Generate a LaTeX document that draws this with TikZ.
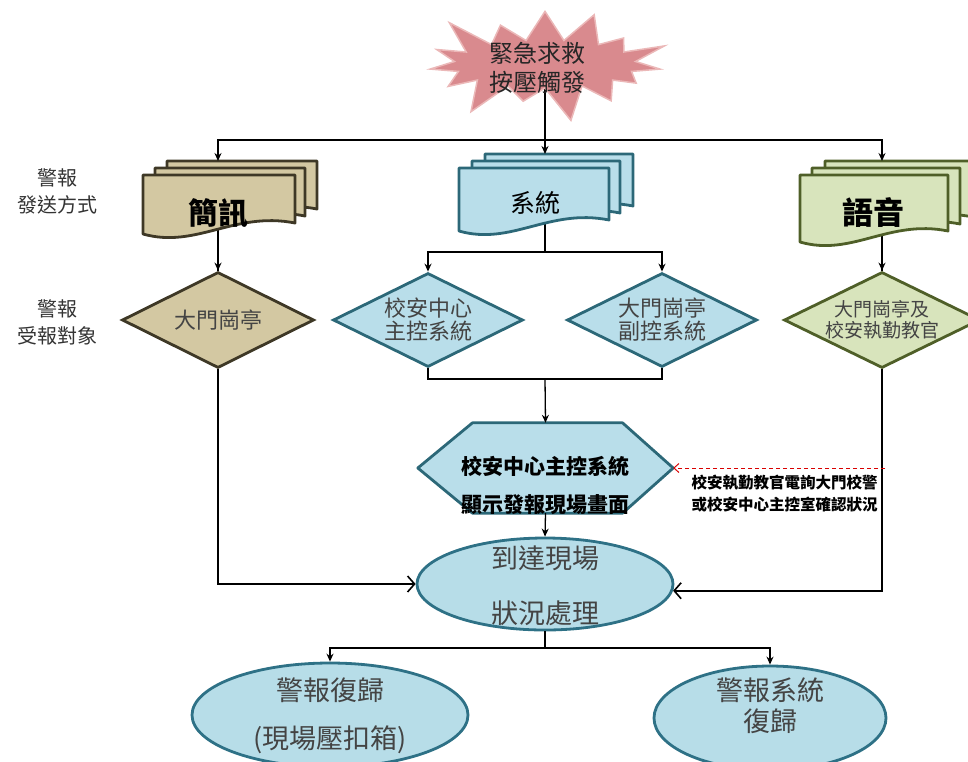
\documentclass[tikz,border=0pt]{standalone}
\usepackage{fontspec}
\setmainfont{Noto Sans CJK TC}
\usetikzlibrary{shapes.geometric,shapes.symbols,arrows.meta,backgrounds}
\definecolor{tanF}{HTML}{D3C8A2}
\definecolor{tanD}{HTML}{3E3826}
\definecolor{bluF}{HTML}{B9DEEA}
\definecolor{bluD}{HTML}{2C6878}
\definecolor{grnF}{HTML}{D8E4BC}
\definecolor{grnD}{HTML}{4F5F28}
\definecolor{burF}{HTML}{D98A8E}
\definecolor{burD}{HTML}{EBB8B8}
\definecolor{ellF}{HTML}{B7DDE8}
\definecolor{ellD}{HTML}{2E7186}
\definecolor{txtG}{HTML}{444444}
\newcommand\mdoc[6]{%
  \filldraw[fill=#5,draw=#6,line width=2.8pt,line join=round]
    (#1,#2) -- ({#1+#3},#2) -- ({#1+#3},{#2+#4-14})
    .. controls ({#1+0.6*#3},{#2+#4-26}) and ({#1+0.35*#3},{#2+#4+12}) ..
    (#1,{#2+#4-3}) -- cycle;}
\tikzset{
  conn/.style={line width=1.3pt},
  arr/.style={conn,-{Stealth[length=8pt,width=7pt]}},
  chev/.style={line width=1.6pt,-{Straight Barb[length=7pt,width=16pt]}},
  reddash/.style={red!85!black,line width=1pt,dash pattern=on 4pt off 3pt,-{Straight Barb[length=5pt,width=9pt]}},
  dia/.style={diamond,aspect=2,inner sep=0pt,line width=2.8pt,text=txtG,align=center,font=\fontsize{22}{23}\selectfont},
  ell/.style={ellipse,inner sep=0pt,fill=ellF,draw=ellD,line width=2.8pt},
  elltext/.style={text=txtG,font=\fontsize{27}{28}\selectfont},
  side/.style={align=center,text=black!80,font=\fontsize{20}{27}\selectfont},
}
\begin{document}
\begin{tikzpicture}[x=1pt,y=-1pt]
\useasboundingbox (0,0) rectangle (968,761);
% ---- starburst
\node[starburst,starburst points=15,starburst point height=40pt,minimum width=262pt,minimum height=128pt,fill=burF,draw=burD,line width=1.5pt,inner sep=0pt] (burst) at (545,64) {};
\node[align=center,text=black!85,font=\fontsize{24}{29}\selectfont] (bursttxt) at (537,68) {緊急求救\\按壓觸發};
% ---- side labels
\node[side] (lab1) at (57,191) {警報\\發送方式};
\node[side] (lab2) at (57,322) {警報\\受報對象};
% ---- coordinates
\coordinate (bus) at (545,140);
\coordinate (smsin) at (218,161);
\coordinate (sysin) at (545,154);
\coordinate (voicein) at (882,161);
\coordinate (sysbus) at (545,252);
\coordinate (jbus) at (545,379);
\coordinate (bbus) at (545,648);
\coordinate (redstart) at (885,468);
% ---- documents
\mdoc{167}{161}{150}{62}{tanF}{tanD}
\mdoc{155}{168}{150}{62}{tanF}{tanD}
\mdoc{143}{175}{152}{62}{tanF}{tanD}
\node[font=\fontsize{30}{30}\selectfont\bfseries] (sms) at (218,213) {簡訊};
\mdoc{485}{154}{148}{66}{bluF}{bluD}
\mdoc{472}{161}{148}{66}{bluF}{bluD}
\mdoc{459}{168}{150}{66}{bluF}{bluD}
\node[font=\fontsize{25}{25}\selectfont] (sys) at (535,203) {系統};
\mdoc{825}{161}{148}{70}{grnF}{grnD}
\mdoc{812}{168}{148}{70}{grnF}{grnD}
\mdoc{800}{175}{148}{70}{grnF}{grnD}
\node[font=\fontsize{31}{31}\selectfont\bfseries] (voice) at (873,213) {語音};
% ---- diamonds
\node[dia,fill=tanF,draw=tanD,minimum width=192pt,minimum height=96pt] (d1) at (218,320) {大門崗亭};
\node[dia,fill=bluF,draw=bluD,minimum width=190pt,minimum height=94pt] (d2) at (428,320) {校安中心\\主控系統};
\node[dia,fill=bluF,draw=bluD,minimum width=190pt,minimum height=94pt] (d3) at (662,320) {大門崗亭\\副控系統};
\node[dia,fill=grnF,draw=grnD,minimum width=196pt,minimum height=96pt,font=\fontsize{19}{21}\selectfont] (d4) at (882,320) {大門崗亭及\\校安執勤教官};
% ---- hexagon
\node[minimum width=255pt,minimum height=90pt,inner sep=0pt] (hex) at (545.5,468) {};
\filldraw[fill=bluF,draw=bluD,line width=2.8pt,line join=round]
  (hex.west) -- ([xshift=-73pt]hex.north) -- ([xshift=77pt]hex.north) -- (hex.east)
  -- ([xshift=77pt]hex.south) -- ([xshift=-73pt]hex.south) -- cycle;
\node[align=center,font=\fontsize{21}{38}\selectfont\bfseries] (hextxt) at (545,485) {校安中心主控系統\\顯示發報現場畫面};
% ---- ellipses
\node[ell,minimum width=256pt,minimum height=92pt] (e1) at (545,584) {};
\node[elltext] (e1a) at (545,558) {到達現場};
\node[elltext] (e1b) at (545,613) {狀況處理};
\node[ell,minimum width=276pt,minimum height=104pt] (e2) at (330,715) {};
\node[elltext] (e2a) at (330,690) {警報復歸};
\node[elltext] (e2b) at (330,740) {(現場壓扣箱)};
\node[ell,minimum width=232pt,minimum height=104pt] (e3) at (770,718) {};
\node[elltext] (e3a) at (770,690) {警報系統};
\node[elltext] (e3b) at (770,721) {復歸};
% ---- note
\node[anchor=west,align=left,font=\fontsize{15.5}{22}\selectfont\bfseries] (note) at (688,494) {校安執勤教官電詢大門校警\\或校安中心主控室確認狀況};
% ---- hidden connector parts
\begin{scope}[on background layer]
  \draw[conn] (burst.center) -- (bus);
  \draw[conn] (sysin) -- (sysbus);
  \draw[conn] (smsin) -- (d1);
  \draw[conn] (voicein) -- (d4);
\end{scope}
% ---- connectors
\draw[arr] (bus) -- (sysin);
\draw[arr] (bus) -| (smsin);
\draw[arr] (bus) -| (voicein);
\draw[arr] (smsin |- 0,244) -- (d1.north);
\draw[arr] (voicein |- 0,250) -- (d4.north);
\draw[arr] (sysbus) -| (d2.north);
\draw[arr] (sysbus) -| (d3.north);
\draw[conn] (d2.south) -- (d2.south |- jbus) -- (d3.south |- jbus) -- (d3.south);
\draw[arr] (jbus) -- (hex.north);
\draw[arr] (hex.south) -- (e1.north);
\draw[chev] (d1.south) |- (e1.west);
\draw[chev] (d4.south) |- (e1.-3);
\draw[reddash] (redstart) -- (hex.east);
\draw[conn] (e1.south) -- (bbus);
\draw[arr] (bbus) -| (e2.north);
\draw[arr] (bbus) -| (e3.north);
\end{tikzpicture}
\end{document}
